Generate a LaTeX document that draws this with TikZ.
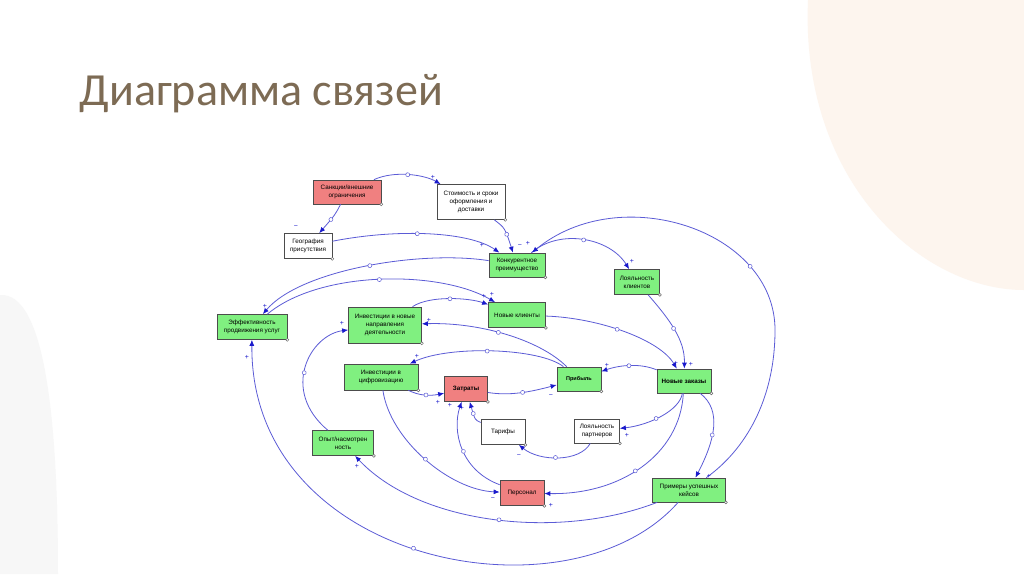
\documentclass[tikz,border=0pt]{standalone}
\usepackage{fontspec}
\setmainfont{Liberation Sans}
\newfontfamily\titlefont{Carlito}
\usetikzlibrary{arrows.meta,decorations.markings}
\definecolor{ln}{HTML}{5B5BD6}
\definecolor{tip}{HTML}{1A1ACC}
\definecolor{gr}{HTML}{80F080}
\definecolor{rd}{HTML}{F08080}
\definecolor{ttl}{HTML}{7D6B54}
\definecolor{peach}{HTML}{FDF5EE}
\tikzset{
  box/.style={draw=black!70,line width=0.7pt,align=center,font=\fontsize{6.3}{8}\selectfont,inner sep=1pt},
  gbox/.style={box,fill=gr},
  rbox/.style={box,fill=rd},
  wbox/.style={box,fill=white},
  lk/.style={draw=ln,line width=0.8pt,-{Latex[length=6pt,width=5pt,color=tip]},
    postaction={decorate},
    decoration={markings,mark=at position 0.5 with {\draw[ln,fill=white,line width=0.5pt] (0,0) circle (2pt);}}},
  sg/.style={font=\fontsize{7}{7}\selectfont,text=tip,inner sep=0pt}
}
\begin{document}
\begin{tikzpicture}[x=1pt,y=-1pt]
\useasboundingbox (0,0) rectangle (1024,574);
\fill[white] (0,0) rectangle (1024,574);
\fill[peach] (808,0) .. controls (800,180) and (920,290) .. (1024,290) -- (1024,0) -- cycle;
\fill[black!3] (0,295) .. controls (45,292) and (58,420) .. (58,574) -- (0,574) -- cycle;
\node[anchor=base west,text=ttl,font=\titlefont\fontsize{46}{52}\selectfont] (title) at (76,105) {Диаграмма связей};

\node[rbox,minimum width=68pt,minimum height=24pt] (san) at (347,192) {Санкции/внешние\\ограничения};
\node[wbox,minimum width=68pt,minimum height=35pt] (sto) at (471,202) {Стоимость и сроки\\оформления и\\доставки};
\node[wbox,minimum width=48pt,minimum height=25pt] (geo) at (308,246) {География\\присутствия};
\node[gbox,minimum width=56pt,minimum height=24pt] (kon) at (517,265) {Конкурентное\\преимущество};
\node[gbox,minimum width=45pt,minimum height=25pt] (lkl) at (637,282) {Лояльность\\клиентов};
\node[gbox,minimum width=57pt,minimum height=25pt] (nkl) at (517,315) {Новые клиенты};
\node[gbox,minimum width=70pt,minimum height=25pt] (eff) at (252,327) {Эффективность\\продвижения услуг};
\node[gbox,minimum width=73pt,minimum height=36pt] (inn) at (385,325) {Инвестиции в новые\\направления\\деятельности};
\node[gbox,minimum width=74pt,minimum height=26pt] (inc) at (381,377) {Инвестиции в\\цифровизацию};
\node[rbox,minimum width=43pt,minimum height=25pt,font=\fontsize{6.3}{8}\selectfont\bfseries] (zat) at (466,389) {Затраты};
\node[gbox,minimum width=44pt,minimum height=24pt,font=\fontsize{5.5}{8}\selectfont\bfseries] (prb) at (579,379) {Прибыль};
\node[gbox,minimum width=54pt,minimum height=24pt,font=\fontsize{6.3}{8}\selectfont\bfseries] (nza) at (684,381) {Новые заказы};
\node[wbox,minimum width=44pt,minimum height=25pt] (tar) at (503,432) {Тарифы};
\node[wbox,minimum width=45pt,minimum height=24pt] (lpa) at (597,431) {Лояльность\\партнеров};
\node[gbox,minimum width=61pt,minimum height=25pt] (opy) at (343,443) {Опыт/насмотрен\\ность};
\node[rbox,minimum width=44pt,minimum height=25pt] (per) at (522,493) {Персонал};
\node[gbox,minimum width=73pt,minimum height=24pt] (prm) at (689,490) {Примеры успешных\\кейсов};

\foreach \n in {san,sto,geo,kon,lkl,nkl,eff,inn,inc,zat,prb,nza,tar,lpa,opy,per,prm}
  \draw[black!60,fill=white,line width=0.4pt] (\n.south east) circle (1.5pt);

\draw[lk] (san) .. controls (395,170) and (425,175) .. (sto);
\draw[lk] (san) .. controls (335,215) .. (geo);
\draw[lk] (geo) .. controls (400,228) and (470,232) .. (kon);
\draw[lk] (sto) .. controls (505,228) .. (kon);
\draw[lk] (kon) .. controls (420,250) and (300,270) .. (eff);
\draw[lk] (eff) .. controls (320,270) and (440,270) .. (nkl);
\draw[lk] (inn) .. controls (430,295) and (470,298) .. (nkl);
\draw[lk] (kon) .. controls (560,228) and (610,238) .. (lkl);
\draw[lk] (prm) .. controls (745,450) and (775,400) .. (775,330) .. controls (775,230) and (620,180) .. (kon);
\draw[lk] (lkl) .. controls (670,320) and (685,340) .. (nza);
\draw[lk] (nkl) .. controls (600,318) and (660,340) .. (nza);
\draw[lk] (nza) .. controls (640,363) and (620,365) .. (prb);
\draw[lk] (prb) .. controls (540,340) and (480,322) .. (inn);
\draw[lk] (prb) .. controls (540,348) and (450,345) .. (inc);
\draw[lk] (inc) .. controls (420,396) and (430,396) .. (zat);
\draw[lk] (zat) .. controls (510,396) and (530,392) .. (prb);
\draw[lk] (tar) .. controls (475,420) .. (zat);
\draw[lk] (per) .. controls (460,470) and (452,430) .. (zat);
\draw[lk] (lpa) .. controls (580,462) and (540,462) .. (tar);
\draw[lk] (nza) .. controls (680,410) and (650,425) .. (lpa);
\draw[lk] (nza) .. controls (680,455) and (620,495) .. (per);
\draw[lk] (inc) .. controls (390,440) and (450,490) .. (per);
\draw[lk] (nza) .. controls (722,410) and (715,440) .. (prm);
\draw[lk] (prm) .. controls (560,540) and (420,525) .. (opy);
\draw[lk] (opy) .. controls (280,390) and (310,335) .. (inn);
\draw[lk] (prm) .. controls (570,625) and (250,565) .. (eff);

\node[sg] (g1) at (433,177) {+};
\node[sg] (g2) at (296,227) {−};
\node[sg] (g3) at (482,245) {+};
\node[sg] (g4) at (520,246) {−};
\node[sg] (g5) at (528,243) {+};
\node[sg] (g6) at (265,306) {+};
\node[sg] (g7) at (484,296) {+};
\node[sg] (g8) at (492,294) {+};
\node[sg] (g9) at (632,261) {+};
\node[sg] (g10) at (676,363) {+};
\node[sg] (g11) at (691,364) {+};
\node[sg] (g12) at (607,365) {+};
\node[sg] (g13) at (429,320) {+};
\node[sg] (g14) at (417,356) {+};
\node[sg] (g15) at (438,402) {+};
\node[sg] (g16) at (551,396) {−};
\node[sg] (g17) at (450,405) {+};
\node[sg] (g18) at (462,408) {+};
\node[sg] (g19) at (519,456) {−};
\node[sg] (g20) at (627,435) {+};
\node[sg] (g21) at (551,505) {+};
\node[sg] (g22) at (493,499) {−};
\node[sg] (g23) at (709,476) {+};
\node[sg] (g24) at (357,466) {+};
\node[sg] (g25) at (342,323) {+};
\node[sg] (g26) at (247,357) {+};
\end{tikzpicture}
\end{document}
